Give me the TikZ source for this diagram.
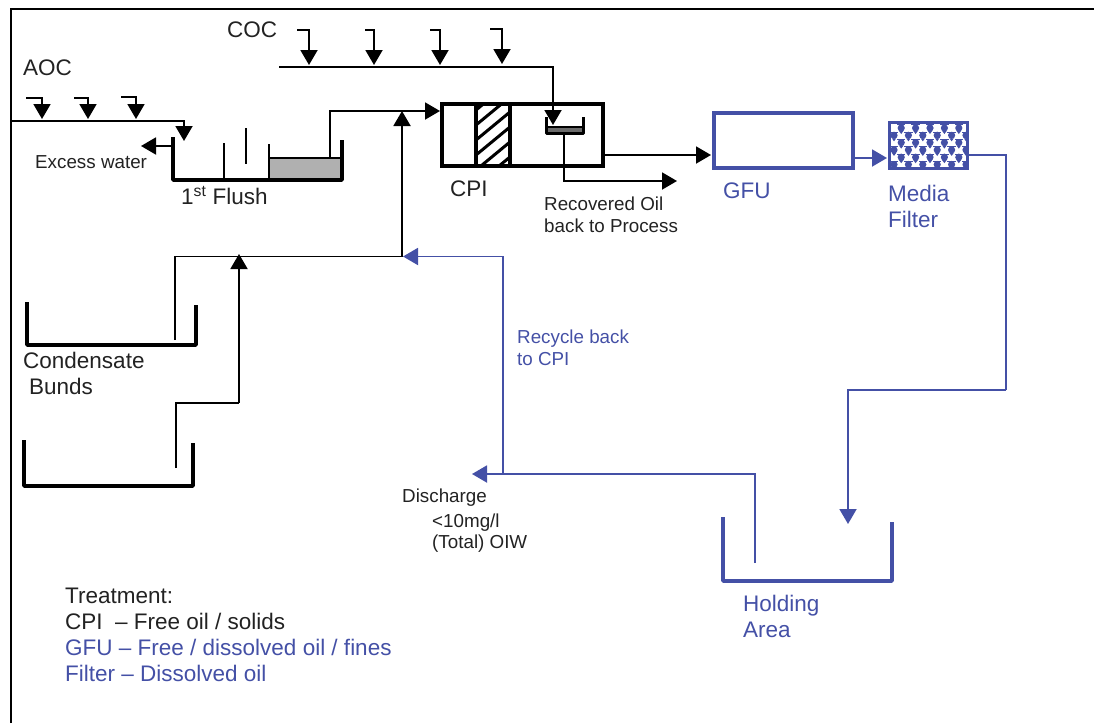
\documentclass[tikz,border=0pt]{standalone}
\usepackage{fontspec}
\setmainfont{Liberation Sans}
\usepackage{xcolor}
\definecolor{flowblue}{HTML}{4450A6}
\definecolor{labelgray}{HTML}{222222}
\definecolor{oilgray}{HTML}{B0B0B0}
\usetikzlibrary{arrows.meta,positioning}
\tikzset{
  flow/.style={-{Triangle[length=15pt,width=17pt]}, line width=1.9pt, draw=black},
  pipe/.style={line width=1.9pt, draw=black},
  blueflow/.style={flow, draw=flowblue, -{Triangle[length=15pt,width=17pt,fill=flowblue]}},
  bluepipe/.style={pipe, draw=flowblue},
  tankwall/.style={line width=3.6pt, line join=round},
  unitbox/.style={rectangle, draw=black, line width=3.8pt, inner sep=0pt, outer sep=0pt},
  biglabel/.style={anchor=base west, inner sep=0pt, text=labelgray, align=left,
    font=\fontsize{22.5}{26}\selectfont},
  smalllabel/.style={anchor=base west, inner sep=0pt, text=labelgray, align=left,
    font=\fontsize{18.8}{22}\selectfont},
  bluelabel/.style={biglabel, text=flowblue}
}
\begin{document}
\begin{tikzpicture}[x=1pt,y=-1pt]
  \useasboundingbox (0,0) rectangle (1094,723);
  \draw[line width=2pt] (10.5,723) -- (10.5,9) -- (1094,9);

  \node[biglabel] (aoc) at (23,75) {AOC};
  \node[biglabel] (coc) at (227,37) {COC};
  \node[smalllabel] (excess) at (35,168) {Excess water};
  \node[biglabel] (flushlabel) at (181,204) {1\textsuperscript{st} Flush};
  \node[biglabel] (cpilabel) at (450,196) {CPI};
  \node[smalllabel] (recovered) at (544,232) {Recovered Oil\\back to Process};
  \node[bluelabel] (gfulabel) at (723,198) {GFU};
  \node[bluelabel] (medialabel) at (888,227) {Media\\Filter};
  \node[biglabel] (bundlabel) at (23,394) {Condensate\\\hspace*{6pt}Bunds};
  \node[smalllabel, text=flowblue] (recycle) at (517,365) {Recycle back\\to CPI};
  \node[smalllabel] (discharge) at (402,548) {Discharge\\[3pt]\hspace*{30pt}<10mg/l\\[-1pt]\hspace*{30pt}(Total) OIW};
  \node[bluelabel] (holdinglabel) at (743,637) {Holding\\Area};
  \node[biglabel] (treatment) at (65,681) {Treatment:\\CPI\ \ -- Free oil / solids\\
    \textcolor{flowblue}{GFU -- Free / dissolved oil / fines}\\\textcolor{flowblue}{Filter -- Dissolved oil}};

  % tanks
  \node[rectangle, draw=black, line width=2pt, fill=oilgray, inner sep=0pt,
    minimum width=73pt, minimum height=22pt] (flushoil) at (305.5,169) {};
  \draw[tankwall] (173,137) -- (173,180) -- (342,180) -- (342,140);
  \draw[line width=1.9pt] (224,143) -- (224,180) (246,128) -- (246,164) (269,144) -- (269,158);
  \draw[tankwall] (27,302) -- (27,345) -- (196,345) -- (196,305);
  \draw[tankwall] (24,440) -- (24,486) -- (193,486) -- (193,443);
  \draw[tankwall, draw=flowblue] (723,517) -- (723,581) -- (892,581) -- (892,522);

  % units
  \node[unitbox, minimum width=161pt, minimum height=62pt] (cpi) at (522.5,135) {};
  \node[unitbox, minimum width=34.5pt, minimum height=62pt, path picture={
    \foreach \sy in {-35,-20,...,85}
      \draw[line width=3pt] (-23,\sy) -- (23,\sy-38);
  }] (hatch) at (493,135) {};
  \node[rectangle, fill=oilgray!60!black, inner sep=0pt, minimum width=36pt, minimum height=4pt] (oilstrip) at (564,129.5) {};
  \draw[line width=3pt, line join=round] (546,117) -- (546,133.5) -- (583,133.5) -- (583,117);
  \draw[line width=2pt] (546,126.5) -- (583,126.5);
  \node[unitbox, draw=flowblue, minimum width=139pt, minimum height=55pt] (gfu) at (783.5,140.5) {};
  \node[unitbox, draw=flowblue, fill=white, minimum width=78pt, minimum height=46pt, path picture={
    \foreach \row in {0,...,5}
      \foreach \col in {-1,...,5} {
        \pgfmathsetmacro{\cx}{-34.5+14.4*\col+7.2*mod(\row,2)}
        \pgfmathsetmacro{\cy}{-17.5+7.3*\row}
        \fill[flowblue] (\cx+7.2,\cy) circle (3.6pt);
        \fill[flowblue] (\cx+3,\cy-3.65) rectangle (\cx+11.4,\cy-2.8);
        \fill[flowblue] (\cx+5,\cy+3) -- (\cx+9.4,\cy+3) -- (\cx+7.2,\cy+6) -- cycle;
      }
  }] (media) at (928.5,145.5) {};

  % inlets
  \foreach \fx/\tx/\ty/\hy/\nm in {26/42/98/119/a, 74/88/98/119/b, 121/136/97/119/c,
      297/309/30/65/d, 365/374/30/65/e, 430/440/30/65/f, 490/502/29/64/g} {
    \coordinate (from\nm) at (\fx,\ty);
    \coordinate (to\nm) at (\tx,\hy);
    \draw[flow] (from\nm) -| (to\nm);
  }

  \coordinate (aocstart) at (11,121);
  \coordinate (flushin) at (184,141);
  \coordinate (cocstart) at (279,67);
  \coordinate (bucketin) at (553,125);
  \coordinate (excessfrom) at (173,146);
  \coordinate (excessto) at (141,146);
  \coordinate (flushout) at (330,158);
  \coordinate (cpiin) at (440,111);
  \coordinate (mainup) at (402,256.5);
  \coordinate (mainjoin) at (402,111);
  \coordinate (bundonefrom) at (175,340);
  \coordinate (bundtwofrom) at (176,468);
  \coordinate (stepturn) at (239,403);
  \coordinate (stepjoin) at (239,254);
  \coordinate (bucketout) at (564,135);
  \coordinate (oilout) at (677,181);
  \coordinate (cpiout) at (605,155);
  \coordinate (gfuin) at (711,155);
  \coordinate (gfuout) at (855,158);
  \coordinate (mediain) at (887,158);
  \coordinate (mediaout) at (969,155);
  \coordinate (turnone) at (1006,390);
  \coordinate (holdingin) at (848,524);
  \coordinate (holdingout) at (755,563);
  \coordinate (dischargeto) at (472,474);
  \coordinate (recyclefrom) at (503,474);
  \coordinate (recycleto) at (403,256.5);

  \draw[flow] (aocstart) -| (flushin);
  \draw[flow] (cocstart) -| (bucketin);
  \draw[flow] (excessfrom) -- (excessto);
  \draw[flow] (flushout) |- (cpiin);
  \draw[flow] (mainup) -- (mainjoin);
  \draw[pipe] (bundonefrom) |- (mainup);
  \draw[pipe] (bundtwofrom) |- (stepturn);
  \draw[flow] (stepturn) -- (stepjoin);
  \draw[flow] (bucketout) |- (oilout);
  \draw[flow] (cpiout) -- (gfuin);

  \draw[blueflow] (gfuout) -- (mediain);
  \draw[bluepipe] (mediaout) -| (turnone);
  \draw[blueflow] (turnone) -| (holdingin);
  \draw[blueflow] (holdingout) |- (dischargeto);
  \draw[blueflow] (recyclefrom) |- (recycleto);
\end{tikzpicture}
\end{document}
